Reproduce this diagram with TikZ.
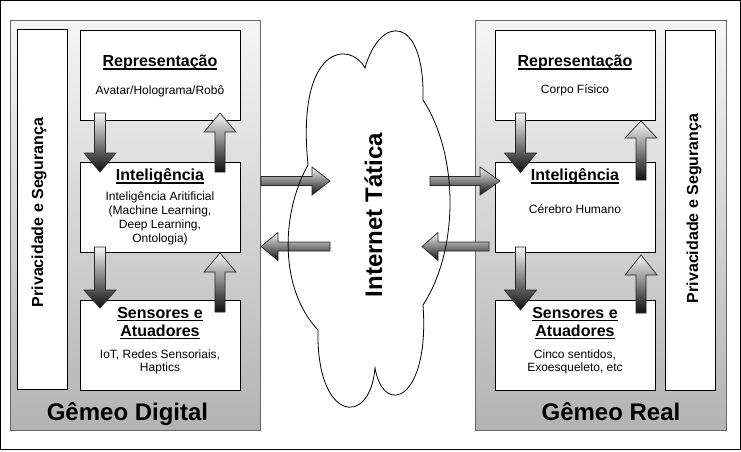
\documentclass[tikz,border=0pt]{standalone}
\usepackage{fontspec}
\setmainfont{Liberation Sans}
\definecolor{conttop}{RGB}{245,245,245}
\definecolor{contbot}{RGB}{179,179,179}
\definecolor{contline}{RGB}{102,102,102}
\definecolor{arrtop}{RGB}{245,245,245}
\definecolor{arrbot}{RGB}{15,15,15}
\newcommand\myul[1]{\setbox0=\hbox{#1}\rlap{\rule[-3pt]{\wd0}{1.4pt}}\box0}
\newcommand\varrow[6]{% cx, ystart, ybase, ytip, shaft half, head half
  \path[blockarrow] ({#1-#5},#2) -- ({#1+#5},#2) -- ({#1+#5},#3) -- ({#1+#6},#3) -- (#1,#4) -- ({#1-#6},#3) -- ({#1-#5},#3) -- cycle;}
\newcommand\harrow[6]{% cy, xstart, xbase, xtip, shaft half, head half
  \path[blockarrow] (#2,{#1-#5}) -- (#3,{#1-#5}) -- (#3,{#1-#6}) -- (#4,#1) -- (#3,{#1+#6}) -- (#3,{#1+#5}) -- (#2,{#1+#5}) -- cycle;}
\tikzset{
  blockarrow/.style={draw=black!85, line width=0.7pt, top color=arrtop, bottom color=arrbot},
  cont/.style={draw=contline, line width=1pt, top color=conttop, bottom color=contbot, inner sep=0, outer sep=0, anchor=north west},
  wbox/.style={draw=black, line width=1pt, fill=white, inner sep=0, outer sep=0, anchor=north west},
  ttl/.style={font=\bfseries\fontsize{16}{19}\selectfont, anchor=base, inner sep=0},
  sub/.style={font=\fontsize{12}{14}\selectfont, anchor=base, inner sep=0},
  big/.style={font=\bfseries\fontsize{24}{28}\selectfont, anchor=base, inner sep=0},
  priv/.style={font=\bfseries\fontsize{16}{19}\selectfont, anchor=base, inner sep=0, rotate=90},
}
\begin{document}
\begin{tikzpicture}[x=1pt,y=-1pt]
\useasboundingbox (0,0) rectangle (741,451);
\draw[line width=1pt] (0.5,0.5) rectangle (740,449.5);
% containers
\node[cont, minimum width=250, minimum height=409.5] (contL) at (10.5,20.5) {};
\node[cont, minimum width=250.5, minimum height=409.5] (contR) at (475.5,20.5) {};
% left boxes
\node[wbox, minimum width=50, minimum height=360] (privL) at (17.5,29.5) {};
\node[wbox, minimum width=160, minimum height=90] (repL) at (80.5,30.5) {};
\node[wbox, minimum width=160, minimum height=90] (intL) at (80.5,162.5) {};
\node[wbox, minimum width=160, minimum height=89.5] (senL) at (80.5,300.5) {};
% right boxes
\node[wbox, minimum width=160, minimum height=90] (repR) at (495.5,30.5) {};
\node[wbox, minimum width=160, minimum height=90] (intR) at (495.5,162.5) {};
\node[wbox, minimum width=160, minimum height=89.5] (senR) at (495.5,300.5) {};
\node[wbox, minimum width=50, minimum height=359.5] (privR) at (665.5,30.5) {};
% left texts
\node[ttl] (repLt) at (160,66.7) {\myul{Representação}};
\node[sub] (repLs) at (160,94) {Avatar/Holograma/Robô};
\node[ttl] (intLt) at (160,180.7) {\myul{Inteligência}};
\node[sub] (intL1) at (160,200.7) {Inteligência Aritificial};
\node[sub] (intL2) at (160,214.7) {(Machine Learning,};
\node[sub] (intL3) at (160,228.4) {Deep Learning,};
\node[sub] (intL4) at (160,242) {Ontologia)};
\node[ttl] (senLt1) at (160,318) {\myul{Sensores e}};
\node[ttl] (senLt2) at (160,336.3) {\myul{Atuadores}};
\node[sub] (senL1) at (160,358.7) {IoT, Redes Sensoriais,};
\node[sub] (senL2) at (160,371.5) {Haptics};
\node[priv] (privLt) at (43.2,212.5) {Privacidade e Segurança};
\node[big] (gemL) at (127.5,420.7) {Gêmeo Digital};
% right texts
\node[ttl] (repRt) at (575,66.7) {\myul{Representação}};
\node[sub] (repRs) at (575,93.5) {Corpo Físico};
\node[ttl] (intRt) at (575,180.7) {\myul{Inteligência}};
\node[sub] (intR1) at (575,213) {Cérebro Humano};
\node[ttl] (senRt1) at (575,318) {\myul{Sensores e}};
\node[ttl] (senRt2) at (575,336.3) {\myul{Atuadores}};
\node[sub] (senR1) at (575,358.2) {Cinco sentidos,};
\node[sub] (senR2) at (575,371.5) {Exoesqueleto, etc};
\node[priv] (privRt) at (698.2,208.4) {Privacidade e Segurança};
\node[big] (gemR) at (611,420.7) {Gêmeo Real};
% vertical arrows left
\varrow{100}{113}{153}{172}{5.5}{16}
\varrow{220}{172}{132}{113}{5}{16}
\varrow{100}{247}{290}{308}{5.5}{16}
\varrow{220}{312}{272}{253}{5}{16}
% vertical arrows right
\varrow{520.5}{113}{153}{172.5}{5}{16}
\varrow{641}{180}{138}{121}{5}{16}
\varrow{520.5}{247}{290}{310}{5}{16}
\varrow{641}{313}{275}{255}{5}{16}
% horizontal arrows
\harrow{181}{261}{312}{330}{4.5}{14}
\harrow{246.5}{330}{278}{261}{4.5}{14}
\harrow{181}{430}{480}{500}{4.5}{14}
\harrow{246.5}{489}{438}{422}{4.5}{14}
% cloud
\draw[line width=0.8pt] (318,330) .. controls (316,422) and (370,428) .. (375,368)
  .. controls (384,418) and (430,400) .. (423,305)
  .. controls (459,250) and (459,155) .. (423,100)
  .. controls (425,14) and (380,14) .. (365,68)
  .. controls (350,40) and (296,45) .. (308,165)
  .. controls (280,215) and (280,290) .. (318,330) -- cycle;
\node[big, rotate=90] (net) at (382.2,215) {Internet Tática};
\end{tikzpicture}
\end{document}
